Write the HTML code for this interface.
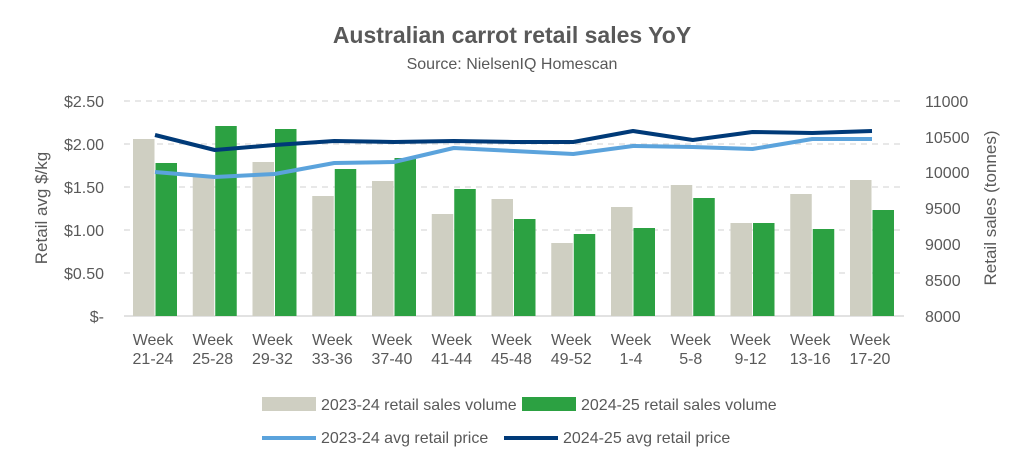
<!DOCTYPE html>
<html><head><style>body{margin:0;background:#fff}</style></head><body>
<svg width="1024" height="465" xmlns="http://www.w3.org/2000/svg" font-family="Liberation Sans, sans-serif" fill="#595959">
<text x="512" y="43" text-anchor="middle" font-size="23" font-weight="bold">Australian carrot retail sales YoY</text>
<text x="512" y="69" text-anchor="middle" font-size="16">Source: NielsenIQ Homescan</text>
<g stroke="#d9d9d9" stroke-width="1.3" stroke-dasharray="6,5">
<line x1="124" x2="904" y1="101" y2="101"/><line x1="124" x2="904" y1="144" y2="144"/><line x1="124" x2="904" y1="187" y2="187"/><line x1="124" x2="904" y1="230" y2="230"/><line x1="124" x2="904" y1="273" y2="273"/></g>
<line x1="124" x2="904" y1="316" y2="316" stroke="#d9d9d9" stroke-width="1.5"/>
<g id="bars"></g>
<g font-size="16" text-anchor="end">
<text x="104" y="107">$2.50</text><text x="104" y="150">$2.00</text><text x="104" y="193">$1.50</text><text x="104" y="236">$1.00</text><text x="104" y="279">$0.50</text><text x="104" y="322">$-</text></g>
<g font-size="16">
<text x="925" y="107">11000</text><text x="925" y="143">10500</text><text x="925" y="178">10000</text><text x="925" y="214">9500</text><text x="925" y="250">9000</text><text x="925" y="286">8500</text><text x="925" y="322">8000</text></g>
<text transform="translate(47,208) rotate(-90)" text-anchor="middle" font-size="17">Retail avg $/kg</text>
<text transform="translate(996,208) rotate(-90)" text-anchor="middle" font-size="17">Retail sales (tonnes)</text>
<g id="xl" font-size="16" text-anchor="middle"></g>
<rect x="262" y="397" width="54" height="14" fill="#cfcfc2"/>
<text x="321" y="410" font-size="16">2023-24 retail sales volume</text>
<rect x="522" y="397" width="54" height="14" fill="#2ca142"/>
<text x="581" y="410" font-size="16">2024-25 retail sales volume</text>
<line x1="262" x2="316" y1="438" y2="438" stroke="#5ba3dc" stroke-width="4"/>
<text x="321" y="443" font-size="16">2023-24 avg retail price</text>
<line x1="504" x2="558" y1="438" y2="438" stroke="#003a78" stroke-width="4"/>
<text x="563" y="443" font-size="16">2024-25 avg retail price</text>
<polyline id="l1" fill="none" stroke="#5ba3dc" stroke-width="4" stroke-linejoin="round"/>
<polyline id="l2" fill="none" stroke="#003a78" stroke-width="4" stroke-linejoin="round"/>
</svg>
<script>
var g=[139,177,162,196,181,214,199,243,207,185,223,194,180],
gr=[163,126,129,169,158,189,219,234,228,198,223,229,210],
lt=[172,177,174,163,162,148,151,154,146,147,149,139,139],
dk=[135,150,145,141,142,141,142,142,131,140,132,133,131],
labs=["21-24","25-28","29-32","33-36","37-40","41-44","45-48","49-52","1-4","5-8","9-12","13-16","17-20"];
var ns="http://www.w3.org/2000/svg",b=document.getElementById("bars"),xl=document.getElementById("xl"),p1=[],p2=[];
for(var i=0;i<13;i++){var c=155+59.75*i;
function r(x,y,f){var e=document.createElementNS(ns,"rect");e.setAttribute("x",x);e.setAttribute("y",y);e.setAttribute("width",21.5);e.setAttribute("height",316-y);e.setAttribute("fill",f);b.appendChild(e);}
r(c-22,g[i],"#cfcfc2");r(c+0.5,gr[i],"#2ca142");
p1.push(c+","+lt[i]);p2.push(c+","+dk[i]);
var t=document.createElementNS(ns,"text");t.setAttribute("x",c-2);t.setAttribute("y",345);t.textContent="Week";xl.appendChild(t);
t=document.createElementNS(ns,"text");t.setAttribute("x",c-2);t.setAttribute("y",364);t.textContent=labs[i];xl.appendChild(t);}
document.getElementById("l1").setAttribute("points",p1.join(" "));
document.getElementById("l2").setAttribute("points",p2.join(" "));
</script>
</body></html>
